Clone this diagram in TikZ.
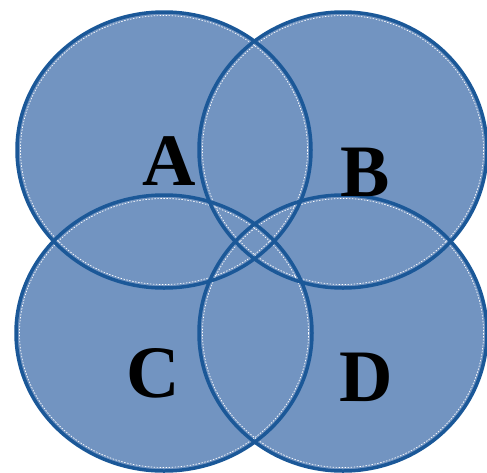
\documentclass[tikz,border=0pt]{standalone}
\usepackage{fontspec}
\setmainfont{Liberation Serif}
\definecolor{fillblue}{RGB}{114,148,193}
\definecolor{edgeblue}{RGB}{27,88,152}
\begin{document}
\begin{tikzpicture}[x=1pt,y=-1pt,
  setfill/.style={fill=fillblue},
  setedge/.style={draw=edgeblue,line width=3.5pt},
  setdash/.style={draw=white,line width=0.7pt,dash pattern=on 1.5pt off 1.5pt},
  setlabel/.style={inner sep=0pt,font=\fontsize{74}{74}\selectfont\bfseries,text=black}]
\useasboundingbox (0,0) rectangle (487,472);
% fills
\fill[setfill] (164,150) ellipse [x radius=147,y radius=138];
\fill[setfill] (343,150) ellipse [x radius=144,y radius=138];
\fill[setfill] (164,333) ellipse [x radius=148,y radius=138];
\fill[setfill] (343,333) ellipse [x radius=144,y radius=138];
% inner white dashed lines
\draw[setdash] (164,150) ellipse [x radius=143.5,y radius=134.5];
\draw[setdash] (343,150) ellipse [x radius=140.5,y radius=134.5];
\draw[setdash] (164,333) ellipse [x radius=144.5,y radius=134.5];
\draw[setdash] (343,333) ellipse [x radius=140.5,y radius=134.5];
% outlines
\draw[setedge] (164,150) ellipse [x radius=147,y radius=138];
\draw[setedge] (343,150) ellipse [x radius=144,y radius=138];
\draw[setedge] (164,333) ellipse [x radius=148,y radius=138];
\draw[setedge] (343,333) ellipse [x radius=144,y radius=138];
% labels
\node[setlabel] (A) at (169,161) {A};
\node[setlabel] (B) at (365,172) {B};
\node[setlabel] (C) at (153,373) {C};
\node[setlabel] (D) at (366,377) {D};
\end{tikzpicture}
\end{document}
